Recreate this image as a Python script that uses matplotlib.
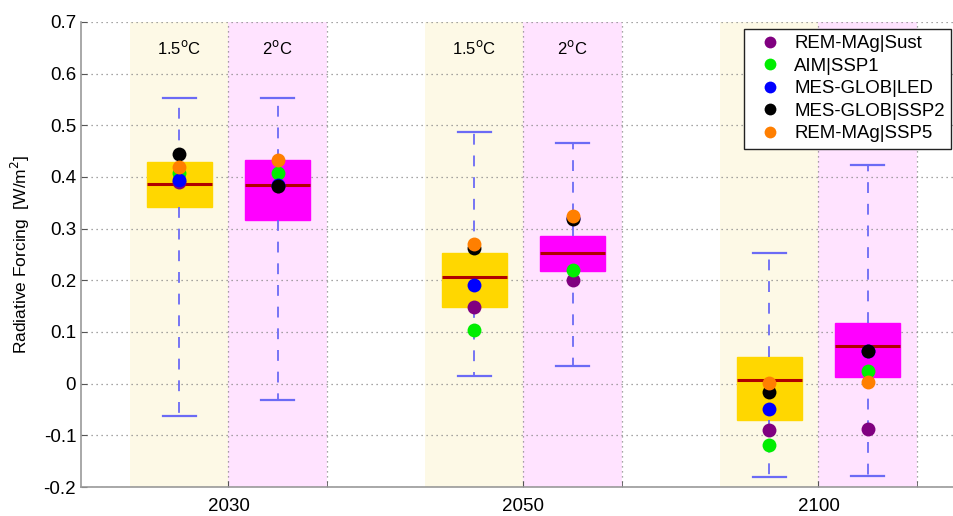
import numpy as np
import matplotlib.pyplot as plt

plt.rcParams['font.family'] = ['Liberation Sans', 'DejaVu Sans']

# Data
years = ['2030', '2050', '2100']
targets = ['1.5$^{\\mathrm{o}}$C', '2$^{\\mathrm{o}}$C']

# box stats per year: [whisker low, q1, median, q3, whisker high]
stats_15 = [[-0.062, 0.342, 0.387, 0.429, 0.553],
            [0.015, 0.149, 0.206, 0.253, 0.488],
            [-0.180, -0.070, 0.008, 0.052, 0.253]]
stats_2 = [[-0.032, 0.317, 0.384, 0.433, 0.553],
           [0.034, 0.218, 0.253, 0.286, 0.465],
           [-0.178, 0.013, 0.073, 0.118, 0.423]]

models = ['REM-MAg|Sust', 'AIM|SSP1', 'MES-GLOB|LED', 'MES-GLOB|SSP2', 'REM-MAg|SSP5']
model_colors = ['#800080', '#00ee00', '#0000ff', '#000000', '#ff7f00']
# model values per year, 1.5C scenario
models_15 = [[0.391, 0.149, -0.090],
             [0.408, 0.104, -0.119],
             [0.394, 0.190, -0.050],
             [0.444, 0.262, -0.016],
             [0.419, 0.270, 0.001]]
# model values per year, 2C scenario
models_2 = [[0.383, 0.200, -0.088],
            [0.408, 0.220, 0.025],
            [0.385, 0.320, 0.063],
            [0.383, 0.318, 0.063],
            [0.433, 0.325, 0.003]]

pos = np.arange(1, len(years) + 1)
off = 1 / 6
band = 1 / 3

fig = plt.figure(figsize=(9.54, 5.16), dpi=100)
ax = fig.add_axes([81 / 954, 29 / 516, 885 / 954, 465 / 516])

# shaded background bands
for p in pos:
    ax.axvspan(p - band, p, color='#fdf9e6', zorder=0.5, lw=0)
    ax.axvspan(p, p + band, color='#ffe3ff', zorder=0.5, lw=0)


def to_bxp(stats):
    out = []
    for s in stats:
        out.append(dict(whislo=s[0], q1=s[1], med=s[2], q3=s[3], whishi=s[4]))
    return out


whisk = dict(color='#6b6bf5', lw=1.3, linestyle=(0, (6, 6)))
caps = dict(color='#6b6bf5', lw=1.6)
med = dict(color='#b00000', lw=2.2)

for stats, sgn, fc in [(stats_15, -1, '#ffd700'), (stats_2, 1, '#ff00ff')]:
    ax.bxp(to_bxp(stats), positions=pos + sgn * off, widths=0.22, capwidths=0.11,
           patch_artist=True, showfliers=False,
           boxprops=dict(facecolor=fc, edgecolor=fc, lw=1),
           whiskerprops=whisk, capprops=caps, medianprops=med,
           manage_ticks=False, zorder=2)

# model points
for i, m in enumerate(models):
    ax.plot(pos - off, models_15[i], 'o', color=model_colors[i], ms=10,
            mec='none', zorder=3, label=m)
    ax.plot(pos + off, models_2[i], 'o', color=model_colors[i], ms=10,
            mec='none', zorder=3)

# scenario labels
for p in pos[:2]:
    ax.text(p - off, 0.65, targets[0], ha='center', va='center', fontsize=12)
    ax.text(p + off, 0.65, targets[1], ha='center', va='center', fontsize=12)

ax.set_xlim(0.5, 3.5)
ax.set_ylim(-0.2, 0.7)
ax.set_yticks(np.arange(-0.2, 0.71, 0.1))
ax.set_yticklabels(['-0.2', '-0.1', '0', '0.1', '0.2', '0.3', '0.4', '0.5', '0.6', '0.7'])
ax.set_xticks(pos)
ax.set_xticklabels(years)
ax.set_xticks(pos + band, minor=True)
ax.tick_params(axis='both', which='both', direction='in', labelsize=13.5,
               length=4, color='#555555')
ax.tick_params(axis='x', pad=8)
ax.grid(True, which='both', linestyle=(0, (1, 3)), color='#888888', lw=0.9)

for s in ['top', 'right']:
    ax.spines[s].set_visible(False)
for s in ['left', 'bottom']:
    ax.spines[s].set_color('#999999')
    ax.spines[s].set_linewidth(1.2)

ax.set_ylabel('Radiative Forcing  [W/m$^2$]', fontsize=12.5, labelpad=8)

leg = ax.legend(loc='upper left', bbox_to_anchor=(0.749, 0.986), fontsize=13.4,
                frameon=True, fancybox=False, borderaxespad=0, labelspacing=0.3,
                handletextpad=0.25, borderpad=0.35, handlelength=2.1, markerscale=0.85)
leg.get_frame().set_edgecolor('#222222')
leg.get_frame().set_linewidth(1)
leg.get_frame().set_alpha(1)

fig.savefig('out.png', dpi=100)
